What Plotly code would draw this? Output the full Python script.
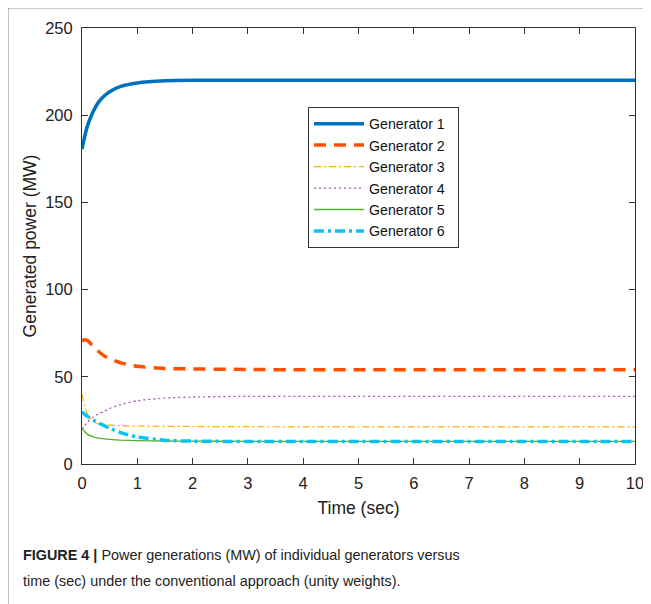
import plotly.graph_objects as go

t = [0, 0.05, 0.1, 0.2, 0.3, 0.4, 0.5, 0.7, 1.0, 1.5, 2, 3, 4, 5, 6, 7, 8, 9, 10]

gen1 = [180.5, 188, 194, 202, 207.5, 211, 213.5, 216.5, 218.5, 219.7, 220, 220, 220, 220, 220, 220, 220, 220, 220]
gen2 = [70.5, 71.3, 70.8, 67.5, 64.5, 62, 60.3, 58, 56, 54.8, 54.5, 54.2, 54, 54, 54, 54, 54, 54, 54]
gen3 = [40, 33, 28.5, 24.5, 23, 22.6, 22.3, 22, 21.8, 21.6, 21.5, 21.4, 21.3, 21.3, 21.3, 21.3, 21.3, 21.3, 21.3]
gen4 = [20, 22, 24, 27, 28.7, 30.3, 31.8, 34, 36.3, 37.8, 38.4, 38.8, 38.8, 38.8, 38.8, 38.8, 38.8, 38.8, 38.8]
gen5 = [20.5, 18.5, 17, 15.6, 14.8, 14.4, 14.1, 13.7, 13.4, 13.2, 13.1, 13, 13, 13, 13, 13, 13, 13, 13]
gen6 = [30, 28.5, 27.3, 25.2, 23.5, 22, 20.5, 18, 15.5, 13.6, 13.1, 12.9, 12.9, 12.9, 12.9, 12.9, 12.9, 12.9, 12.9]

names = ["Generator 1", "Generator 2", "Generator 3", "Generator 4", "Generator 5", "Generator 6"]
series = [gen1, gen2, gen3, gen4, gen5, gen6]
colors = ["#0072BD", "#FF5000", "#FFB000", "#B050C0", "#55B030", "#10C0F0"]
dashes = ["solid", "12px,8px", "7px,3px,2px,3px", "2px,3px", "solid", "10px,4px,3px,4px"]
widths = [3.5, 3.5, 1.2, 1.3, 1.3, 3.5]

fig = go.Figure()
for n, s, c, d, w in zip(names, series, colors, dashes, widths):
    fig.add_trace(go.Scatter(x=t, y=s, name=n + "\u00a0\u00a0", mode="lines",
                             line=dict(color=c, dash=d, width=w, shape="spline", smoothing=0.6)))

axis_common = dict(showline=True, linecolor="#333", linewidth=1, mirror="ticks", ticks="inside",
                   ticklen=6, tickcolor="#333", showgrid=False, zeroline=False, automargin=False,
                   tickfont=dict(family="Liberation Sans, Arial", size=16.5, color="#222"))

fig.update_layout(
    width=643, height=596,
    margin=dict(l=74, r=16, t=20, b=140),
    paper_bgcolor="white", plot_bgcolor="white",
    font=dict(family="Liberation Sans, Arial", color="#222"),
    xaxis=dict(range=[0, 10], dtick=1, ticklabelstandoff=4,
               title=dict(text="Time (sec)", font=dict(size=17.5), standoff=10), **axis_common),
    yaxis=dict(range=[0, 250], dtick=50, ticklabelstandoff=5,
               title=dict(text="Generated power (MW)", font=dict(size=17.5), standoff=4), **axis_common),
    legend=dict(x=0.4087, y=0.819, xanchor="left", yanchor="top", bgcolor="white",
                bordercolor="#333", borderwidth=1, font=dict(size=14.2, family="Liberation Sans, Arial", color="#111"),
                itemwidth=50, tracegroupgap=0),
    showlegend=True,
)

fig.add_annotation(xref="paper", yref="paper", x=-0.110, y=-0.2087, xanchor="left", yanchor="middle",
                   text="<b>FIGURE 4 |</b> Power generations (MW) of individual generators versus",
                   showarrow=False, font=dict(size=14.4, family="Liberation Sans, Arial", color="#222"))
fig.add_annotation(xref="paper", yref="paper", x=-0.110, y=-0.2683, xanchor="left", yanchor="middle",
                   text="time (sec) under the conventional approach (unity weights).",
                   showarrow=False, font=dict(size=14.4, family="Liberation Sans, Arial", color="#222"))

fig.add_shape(type="line", xref="paper", yref="paper", x0=-0.1338, x1=-0.1338, y0=1.046, y1=-0.33,
              line=dict(color="#888", width=1))
fig.add_shape(type="line", xref="paper", yref="paper", x0=-0.1338, x1=1.05, y0=1.046, y1=1.046,
              line=dict(color="#888", width=1))

fig.write_html("out.html")
